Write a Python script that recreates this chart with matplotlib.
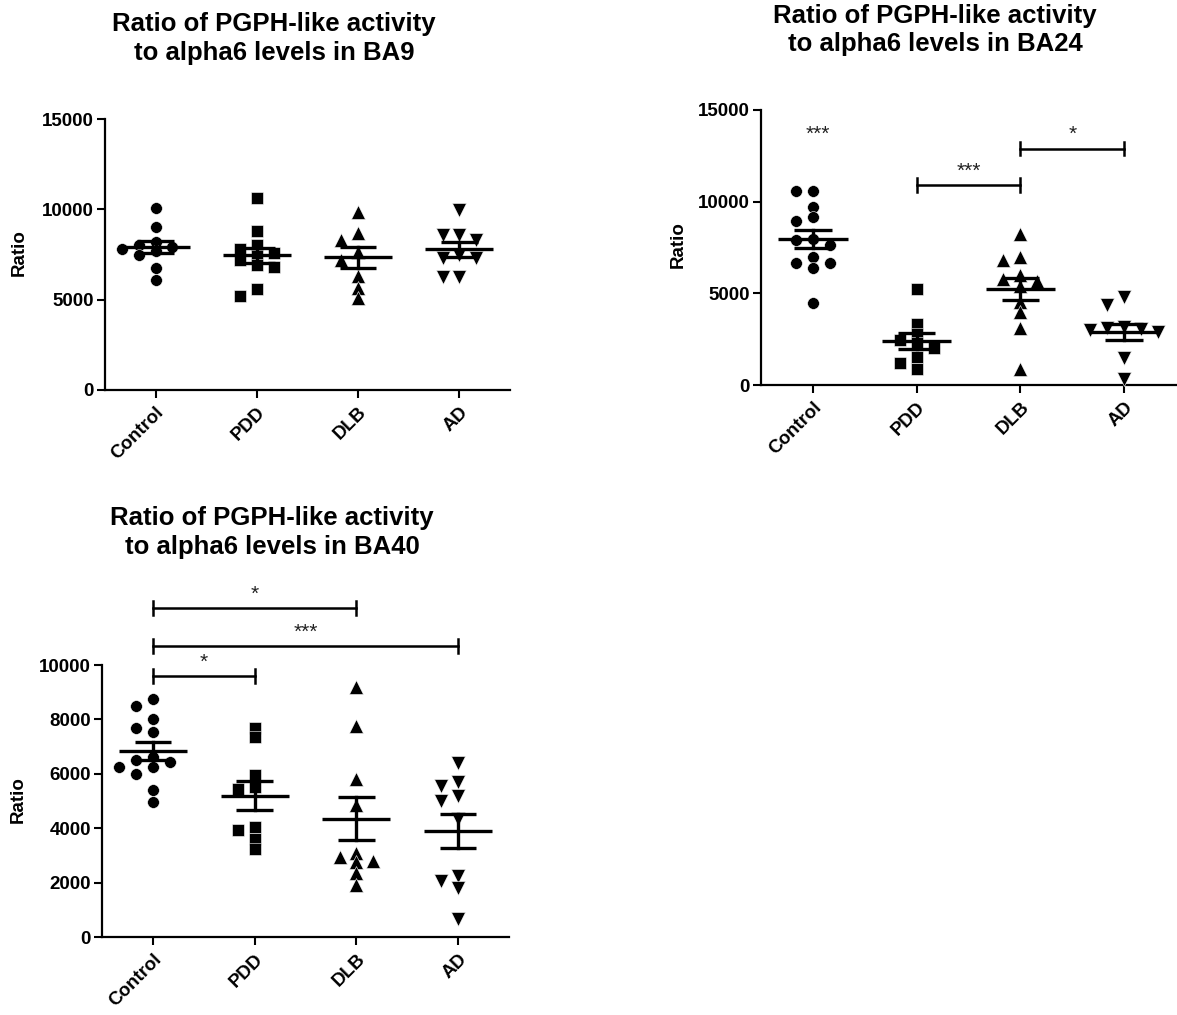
import matplotlib
matplotlib.use('Agg')
import matplotlib.pyplot as plt
import numpy as np

plt.rcParams['font.family'] = ['Liberation Sans', 'DejaVu Sans']

categories = ['Control', 'PDD', 'DLB', 'AD']

# BA9
ba9_control = [10100, 9000, 8200, 8000, 7900, 7800, 7700, 7500, 6750, 6100]
ba9_pdd = [10600, 8800, 8000, 7800, 7600, 7400, 7200, 6900, 6800, 5600, 5200]
ba9_dlb = [9850, 8700, 8300, 7650, 7200, 6300, 5650, 5100]
ba9_ad = [9950, 8600, 8600, 8300, 7500, 7300, 7300, 6250, 6250]

# BA24
ba24_control = [10600, 10600, 9700, 9150, 8950, 7950, 7900, 7650, 7000, 6650, 6650, 6400, 4500]
ba24_pdd = [5250, 3350, 2800, 2450, 2300, 2000, 1550, 1200, 900]
ba24_dlb = [8250, 7000, 6800, 6000, 5800, 5650, 5400, 4550, 4000, 3100, 900]
ba24_ad = [4800, 4350, 3150, 3100, 3050, 3000, 2900, 1450, 350]

# BA40
ba40_control = [8750, 8500, 8000, 7700, 7550, 6600, 6450, 6500, 6250, 6250, 6000, 5400, 4950]
ba40_pdd = [7700, 7350, 5950, 5500, 5450, 4050, 3950, 3600, 3250]
ba40_dlb = [9200, 7750, 5800, 4850, 3100, 2800, 2750, 2950, 2350, 1900]
ba40_ad = [6400, 5700, 5550, 5200, 5000, 4350, 2250, 2050, 1800, 650]

titles = ['Ratio of PGPH-like activity\nto alpha6 levels in BA9',
          'Ratio of PGPH-like activity\nto alpha6 levels in BA24',
          'Ratio of PGPH-like activity\nto alpha6 levels in BA40']

ba9_ticks = [0, 5000, 10000, 15000]
ba24_ticks = [0, 5000, 10000, 15000]
ba40_ticks = [0, 2000, 4000, 6000, 8000, 10000]

# significance: (group i, group j, bracket y, label)
ba24_sig = [(1, 2, 10900, '***'), (2, 3, 12900, '*')]
ba24_single = [(0, 13700, '***')]
ba40_sig = [(0, 2, 12100, '*'), (0, 3, 10700, '***'), (0, 1, 9600, '*')]

markers = ['o', 's', '^', 'v']
msizes = [8.5, 8.5, 9.5, 9.5]

W, H = 1177, 1015
fig = plt.figure(figsize=(W / 100, H / 100), dpi=100)


def make_axes(left, right, bottom, top):
    return fig.add_axes([left / W, 1 - bottom / H, (right - left) / W, (bottom - top) / H])


def swarm(ax, values, center, diam=12.0, step=0.165):
    p0 = ax.transData.transform((0, 0))
    p1 = ax.transData.transform((1, 1))
    sx, sy = p1[0] - p0[0], p1[1] - p0[1]
    vals = np.asarray(values, dtype=float)
    xs = np.zeros(len(vals))
    placed = []
    order = np.argsort(-vals)
    for i in order:
        v = vals[i]
        x = center
        for k in [0, -1, 1, -2, 2, -3, 3]:
            x = center + k * step
            if all(((x - px) * sx) ** 2 + ((v - py) * sy) ** 2 >= (diam * 0.72) ** 2 for px, py in placed):
                break
        placed.append((x, v))
        xs[i] = x
    return xs


def panel(ax, groups, yticks, ymax):
    ax.set_xlim(-0.5, 3.5)
    ax.set_ylim(0, ymax)
    fig.canvas.draw()
    for gi, vals in enumerate(groups):
        xs = swarm(ax, vals, gi)
        ax.plot(xs, vals, linestyle='none', marker=markers[gi], ms=msizes[gi],
                color='black', mec='white', mew=0.4, zorder=3, clip_on=False)
        v = np.asarray(vals, dtype=float)
        m = v.mean()
        sem = v.std(ddof=1) / np.sqrt(len(v))
        ax.plot([gi - 0.335, gi + 0.335], [m, m], color='black', lw=2.4, zorder=4, solid_capstyle='butt')
        ax.plot([gi, gi], [m - sem, m + sem], color='black', lw=2.4, zorder=4)
        for yy in (m - sem, m + sem):
            ax.plot([gi - 0.18, gi + 0.18], [yy, yy], color='black', lw=2.4, zorder=4, solid_capstyle='butt')
    ax.set_xticks(range(len(categories)))
    ax.set_xticklabels(categories, rotation=45, ha='right', va='top', rotation_mode='anchor',
                       fontsize=13.5, fontweight='bold')
    ax.set_yticks(yticks)
    ax.set_yticklabels([str(t) for t in yticks], fontsize=13.5, fontweight='bold')
    for s in ('top', 'right'):
        ax.spines[s].set_visible(False)
    ax.spines['left'].set_linewidth(1.6)
    ax.spines['bottom'].set_linewidth(1.6)
    ax.spines['left'].set_bounds(0, yticks[-1])
    ax.tick_params(axis='both', direction='out', length=6, width=1.5, pad=2)
    ax.tick_params(axis='x', pad=4)


def bracket(ax, i, j, y, label, capv):
    ax.plot([i, j], [y, y], color='black', lw=1.8, clip_on=False)
    for xx in (i, j):
        ax.plot([xx, xx], [y - capv, y + capv], color='black', lw=1.8, clip_on=False)
    ax.text((i + j) / 2, y + capv * 0.6, label, ha='center', va='bottom', fontsize=15, color='#222222')


ax1 = make_axes(105, 510, 390, 119)
panel(ax1, [ba9_control, ba9_pdd, ba9_dlb, ba9_ad], ba9_ticks, 15000)

ax2 = make_axes(761, 1176, 385, 110)
panel(ax2, [ba24_control, ba24_pdd, ba24_dlb, ba24_ad], ba24_ticks, 15000)
for i, j, y, lab in ba24_sig:
    bracket(ax2, i, j, y, lab, 380)
for i, y, lab in ba24_single:
    ax2.text(i + 0.05, y, lab, ha='center', va='center', fontsize=15, color='#222222')

ax3 = make_axes(102, 509, 937, 665)
panel(ax3, [ba40_control, ba40_pdd, ba40_dlb, ba40_ad], ba40_ticks, 10000)
for i, j, y, lab in ba40_sig:
    bracket(ax3, i, j, y, lab, 260)

# titles
fig.text(274 / W, 1 - 38.5 / H, titles[0], ha='center', va='center', fontsize=18.5,
         fontweight='bold', linespacing=1.25)
fig.text(935 / W, 1 - 30 / H, titles[1], ha='center', va='center', fontsize=18.5,
         fontweight='bold', linespacing=1.25)
fig.text(272 / W, 1 - 532.5 / H, titles[2], ha='center', va='center', fontsize=18.5,
         fontweight='bold', linespacing=1.25)

# y labels
fig.text(19 / W, 1 - 253 / H, 'Ratio', rotation=90, ha='center', va='center', fontsize=13.5, fontweight='bold')
fig.text(678 / W, 1 - 245 / H, 'Ratio', rotation=90, ha='center', va='center', fontsize=13.5, fontweight='bold')
fig.text(18 / W, 1 - 800 / H, 'Ratio', rotation=90, ha='center', va='center', fontsize=13.5, fontweight='bold')

fig.savefig('out.png', dpi=100)
